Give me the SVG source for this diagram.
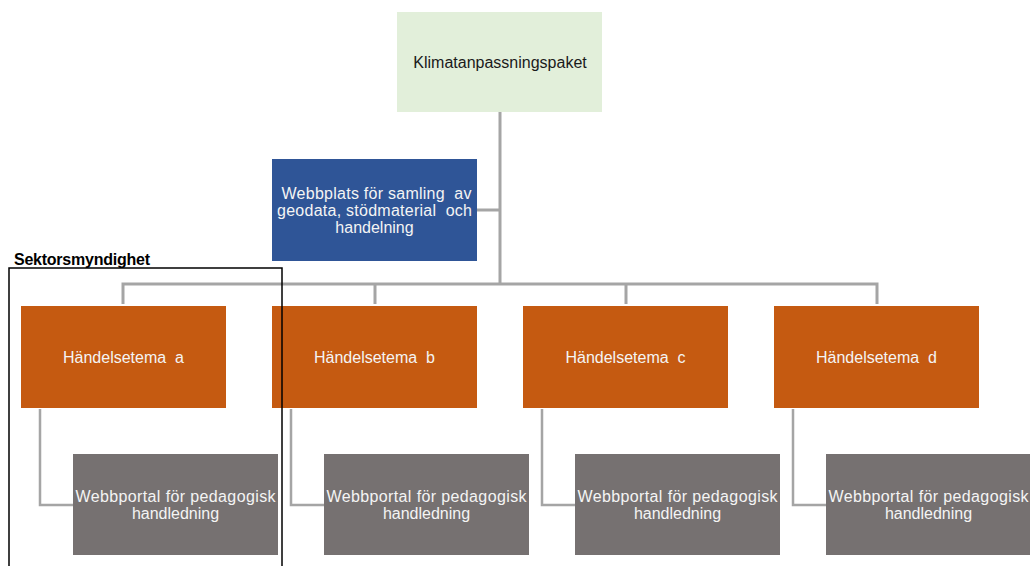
<svg xmlns="http://www.w3.org/2000/svg" width="1030" height="566" viewBox="0 0 1030 566">
<style>
text{font-family:"Liberation Sans",Arial,sans-serif;font-size:16px;text-anchor:middle;white-space:pre}
.lbl{fill:#f4f4f4}
.dark{fill:#1a1a1a}
.orange{fill:#C55A11}
.gray{fill:#767171}
.conn{stroke:#A5A5A5;stroke-width:3;fill:none}
.child{stroke:#A5A5A5;stroke-width:2.5;fill:none}
</style>
<rect x="0" y="0" width="1030" height="566" fill="#ffffff"/>
<g id="connectors">
<path class="conn" d="M500 112 V284 M477 210 H500 M123 304 V284 H877 V304 M375 284 V304 M626 284 V304"/>
<path class="child" d="M40 409 V505 H73 M291 409 V505 H324 M542 409 V505 H575 M793 409 V505 H826"/>
</g>
<g id="root">
<rect x="397" y="12" width="205" height="100" fill="#E2EFDA"/>
<text class="dark" x="500" y="68">Klimatanpassningspaket</text>
</g>
<g id="webbplats">
<rect x="272" y="159" width="205" height="102" fill="#2F5597"/>
<text class="lbl" x="376.5" y="199" textLength="190" lengthAdjust="spacing">Webbplats för samling  av</text>
<text class="lbl" x="374.5" y="216" textLength="195" lengthAdjust="spacing">geodata, stödmaterial  och</text>
<text class="lbl" x="374.5" y="233">handelning</text>
</g>
<g id="tema-a">
<rect class="orange" x="21" y="306" width="205" height="102"/>
<text class="lbl" x="123.5" y="363">Händelsetema  a</text>
</g>
<g id="tema-b">
<rect class="orange" x="272" y="306" width="205" height="102"/>
<text class="lbl" x="374.5" y="363">Händelsetema  b</text>
</g>
<g id="tema-c">
<rect class="orange" x="523" y="306" width="205" height="102"/>
<text class="lbl" x="625.5" y="363">Händelsetema  c</text>
</g>
<g id="tema-d">
<rect class="orange" x="774" y="306" width="205" height="102"/>
<text class="lbl" x="876.5" y="363">Händelsetema  d</text>
</g>
<g id="portal-a">
<rect class="gray" x="73" y="454" width="205" height="101"/>
<text class="lbl" x="175.5" y="502" textLength="200" lengthAdjust="spacing">Webbportal för pedagogisk</text>
<text class="lbl" x="175.5" y="519">handledning</text>
</g>
<g id="portal-b">
<rect class="gray" x="324" y="454" width="205" height="101"/>
<text class="lbl" x="426.5" y="502" textLength="200" lengthAdjust="spacing">Webbportal för pedagogisk</text>
<text class="lbl" x="426.5" y="519">handledning</text>
</g>
<g id="portal-c">
<rect class="gray" x="575" y="454" width="205" height="101"/>
<text class="lbl" x="677.5" y="502" textLength="200" lengthAdjust="spacing">Webbportal för pedagogisk</text>
<text class="lbl" x="677.5" y="519">handledning</text>
</g>
<g id="portal-d">
<rect class="gray" x="826" y="454" width="205" height="101"/>
<text class="lbl" x="928.5" y="502" textLength="200" lengthAdjust="spacing">Webbportal för pedagogisk</text>
<text class="lbl" x="928.5" y="519">handledning</text>
</g>
<g id="sektorsmyndighet">
<rect x="9" y="268" width="273" height="310" fill="none" stroke="#000" stroke-width="1.5"/>
<text x="14" y="265" textLength="136" lengthAdjust="spacing" style="text-anchor:start;font-size:16px;font-weight:bold" fill="#000">Sektorsmyndighet</text>
</g>
</svg>
